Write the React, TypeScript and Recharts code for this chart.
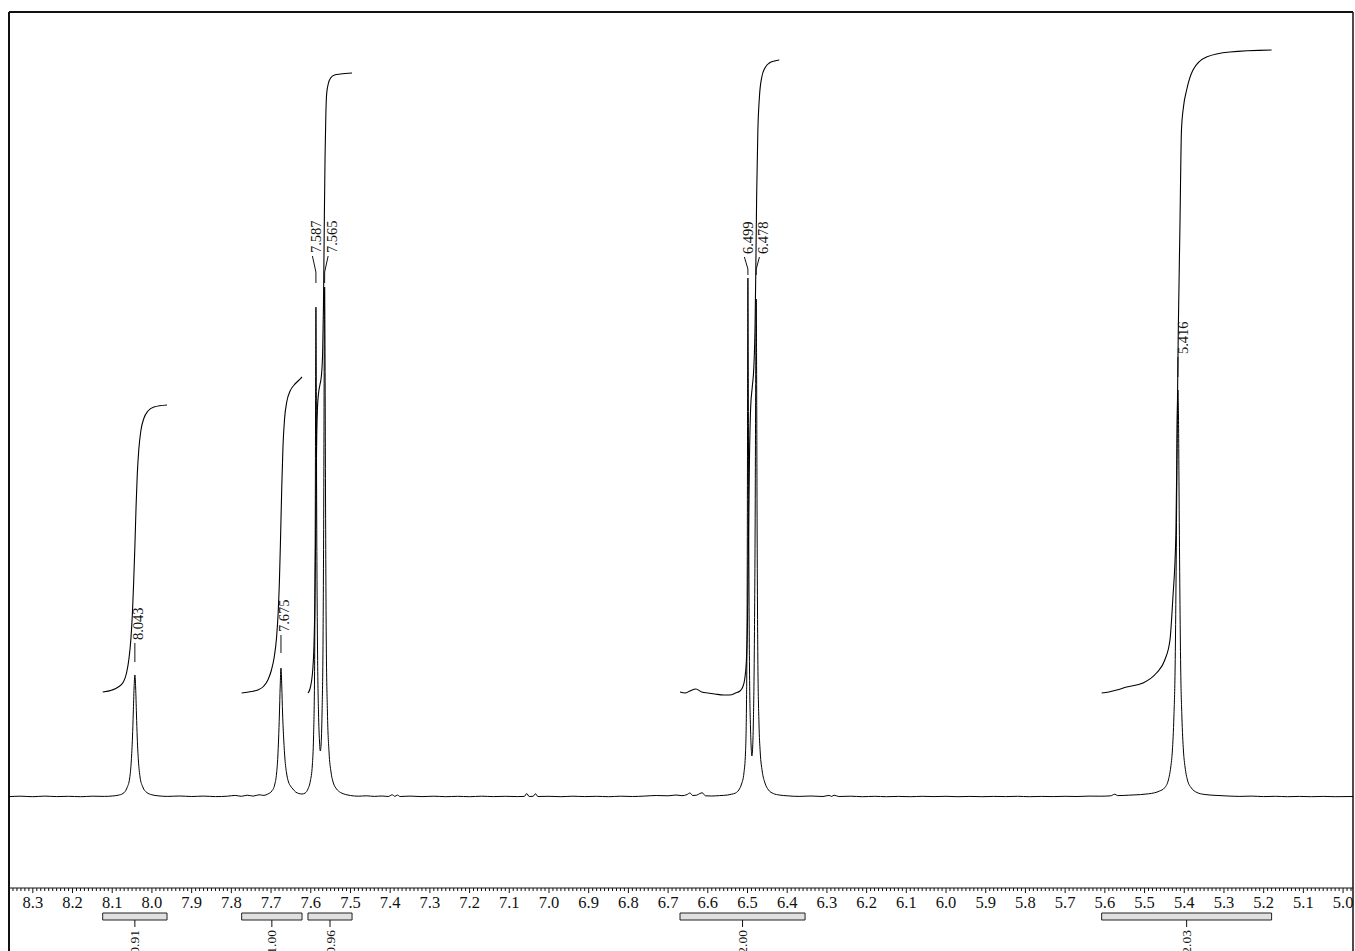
import React from 'react';
import { ComposedChart, Line, XAxis, YAxis, ReferenceLine, ReferenceArea } from 'recharts';

// 1H spectrum trace, [ppm, intensity]
const spectrum: [number, number][] = [
  [8.36, 0.4], [8.33, 0.8], [8.3, 0.3], [8.27, 0.9], [8.24, 0.4], [8.21, 0.7], [8.18, 0.3], [8.15, 0.8],
  [8.12, 0.6], [8.1, 1.0], [8.085, 1.8],
  [8.073, 3.5], [8.063, 9], [8.056, 19], [8.052, 36], [8.049, 60], [8.047, 84], [8.045, 109], [8.043, 122],
  [8.041, 109], [8.039, 83], [8.037, 59], [8.034, 36], [8.03, 20], [8.023, 10], [8.013, 4.5], [8.0, 2.2], [7.985, 1.2],
  [7.96, 0.6], [7.93, 1.0], [7.9, 0.5], [7.87, 0.9], [7.84, 0.4], [7.81, 0.8], [7.79, 1.6], [7.775, 0.7],
  [7.76, 1.8], [7.745, 0.9], [7.73, 2.2], [7.718, 1.6],
  [7.708, 3], [7.698, 6], [7.691, 12], [7.686, 24], [7.683, 40], [7.681, 58], [7.679, 82], [7.677, 110], [7.675, 129],
  [7.673, 111], [7.671, 84], [7.668, 57], [7.665, 38], [7.661, 24], [7.656, 15], [7.651, 11], [7.645, 8], [7.638, 5],
  [7.63, 3.5], [7.622, 3],
  [7.614, 4], [7.607, 8], [7.601, 16], [7.596, 32], [7.593, 60], [7.5905, 120], [7.5888, 260], [7.5875, 440], [7.587, 490],
  [7.5862, 430], [7.585, 280], [7.583, 150], [7.5805, 85], [7.578, 56], [7.576, 46], [7.574, 52], [7.5715, 85],
  [7.569, 160], [7.5672, 300], [7.5658, 470], [7.565, 510], [7.5642, 460], [7.5628, 300], [7.561, 160], [7.558, 85],
  [7.554, 45], [7.549, 25], [7.543, 14], [7.535, 8], [7.525, 4.5], [7.512, 2.5], [7.5, 1.5],
  [7.48, 0.8], [7.46, 1.2], [7.44, 0.6], [7.42, 1.0], [7.405, 0.5], [7.395, 2.2], [7.388, 0.6], [7.382, 2.0],
  [7.375, 0.5], [7.35, 0.9], [7.32, 0.4], [7.29, 0.8], [7.26, 0.3], [7.23, 0.7], [7.2, 0.3], [7.17, 0.8],
  [7.14, 0.4], [7.11, 0.7], [7.08, 0.4], [7.062, 0.6], [7.056, 3.5], [7.05, 0.5], [7.04, 0.7], [7.034, 3.2],
  [7.028, 0.5], [7.0, 0.7], [6.97, 0.3], [6.94, 0.8], [6.91, 0.4], [6.88, 0.7], [6.85, 0.3], [6.82, 0.8],
  [6.79, 0.5], [6.76, 0.9], [6.73, 1.5], [6.7, 1.2], [6.68, 2.0], [6.665, 1.3], [6.652, 2.5], [6.645, 4.0],
  [6.638, 1.5], [6.628, 1.8], [6.62, 3.5], [6.614, 4.2], [6.606, 1.2], [6.59, 1.0], [6.57, 1.4], [6.55, 2.0], [6.54, 2.8],
  [6.53, 4], [6.522, 7], [6.515, 13], [6.509, 24], [6.505, 45], [6.5025, 95], [6.5005, 250], [6.4995, 460], [6.499, 519],
  [6.4982, 440], [6.4968, 260], [6.495, 130], [6.4925, 70], [6.4905, 48], [6.489, 41], [6.4875, 46], [6.4855, 70],
  [6.483, 140], [6.4808, 270], [6.4792, 430], [6.478, 498], [6.4772, 440], [6.4758, 270], [6.474, 140], [6.4712, 75],
  [6.468, 45], [6.463, 26], [6.456, 14], [6.447, 7], [6.435, 3.5], [6.42, 2.0], [6.4, 1.2],
  [6.37, 0.6], [6.34, 1.0], [6.31, 0.5], [6.295, 1.6], [6.288, 0.6], [6.282, 1.8], [6.27, 0.5], [6.24, 0.8],
  [6.21, 0.3], [6.18, 0.7], [6.15, 0.3], [6.12, 0.6], [6.09, 0.3], [6.06, 0.7], [6.03, 0.4], [6.0, 0.7],
  [5.97, 0.3], [5.94, 0.6], [5.91, 0.3], [5.88, 0.6], [5.85, 0.4], [5.82, 0.7], [5.79, 0.3], [5.76, 0.6],
  [5.73, 0.4], [5.7, 0.7], [5.67, 0.5], [5.64, 0.9], [5.61, 0.8], [5.585, 1.2], [5.575, 2.8], [5.568, 1.4],
  [5.54, 1.8], [5.51, 2.4], [5.49, 3.2], [5.475, 4.2],
  [5.462, 6], [5.45, 9], [5.44, 17], [5.434, 30], [5.43, 46], [5.426, 81], [5.423, 130], [5.421, 203], [5.419, 300],
  [5.4175, 380], [5.416, 407], [5.4145, 380], [5.413, 300], [5.411, 203], [5.409, 130], [5.406, 81], [5.402, 46],
  [5.398, 30], [5.392, 17], [5.382, 9], [5.368, 4.5], [5.35, 2.6], [5.32, 1.6], [5.29, 1.0],
  [5.26, 0.6], [5.23, 0.9], [5.2, 0.4], [5.17, 0.7], [5.14, 0.3], [5.11, 0.6], [5.08, 0.3], [5.05, 0.6],
  [5.02, 0.3], [4.975, 0.5],
];

// integral curves, [ppm, height]
const integral1: [number, number][] = [
  [8.124, 105], [8.1, 107], [8.085, 110], [8.072, 115], [8.064, 124], [8.058, 138], [8.053, 158], [8.049, 185],
  [8.046, 215], [8.043, 250], [8.04, 290], [8.037, 322], [8.033, 348], [8.028, 366], [8.02, 379], [8.01, 386],
  [7.995, 390], [7.962, 392],
];
const integral2: [number, number][] = [
  [7.774, 104], [7.75, 105.5], [7.733, 107], [7.718, 111], [7.708, 117], [7.699, 127], [7.692, 140], [7.686, 160],
  [7.682, 185], [7.679, 215], [7.676, 260], [7.673, 310], [7.67, 350], [7.666, 378], [7.66, 396], [7.652, 406],
  [7.642, 412], [7.632, 416], [7.622, 420],
];
const integral3: [number, number][] = [
  [7.607, 104], [7.602, 108], [7.598, 116], [7.595, 127], [7.592, 150], [7.59, 185], [7.588, 250], [7.5865, 310],
  [7.585, 360], [7.583, 390], [7.58, 405], [7.577, 412], [7.573, 422], [7.57, 445], [7.568, 490], [7.566, 570],
  [7.564, 640], [7.562, 682], [7.56, 703], [7.556, 713], [7.55, 719], [7.54, 722], [7.525, 723], [7.496, 724],
];
const integral4: [number, number][] = [
  [6.67, 105], [6.657, 104], [6.645, 106], [6.63, 108], [6.615, 105], [6.6, 104], [6.582, 103], [6.56, 102],
  [6.545, 102], [6.53, 104], [6.519, 106], [6.512, 110], [6.507, 118], [6.503, 135], [6.5, 175], [6.4975, 260],
  [6.495, 340], [6.492, 390], [6.488, 410], [6.484, 430], [6.481, 470], [6.479, 530], [6.477, 600], [6.474, 665],
  [6.47, 700], [6.464, 720], [6.456, 729], [6.445, 734], [6.432, 736], [6.42, 737],
];
const integral5: [number, number][] = [
  [5.608, 104], [5.59, 105], [5.57, 107], [5.545, 110], [5.504, 114], [5.47, 124], [5.449, 137], [5.436, 157],
  [5.429, 197], [5.421, 264], [5.418, 364], [5.415, 467], [5.411, 567], [5.407, 667], [5.402, 690], [5.394, 707],
  [5.378, 727], [5.344, 740], [5.285, 745], [5.18, 747],
];

// integration ranges [from, to] and their values
const integralRanges: [number, number][] = [
  [8.124, 7.962], [7.774, 7.622], [7.607, 7.496], [6.67, 6.355], [5.608, 5.18],
];
const integralValues = ['0.91', '1.00', '0.96', '2.00', '2.03'];

// picked peaks
const peakShifts = [8.043, 7.675, 7.587, 7.565, 6.499, 6.478, 5.416];
const peakText = ['8.043', '7.675', '7.587', '7.565', '6.499', '6.478', '5.416'];

const majorTicks = [
  8.3, 8.2, 8.1, 8.0, 7.9, 7.8, 7.7, 7.6, 7.5, 7.4, 7.3, 7.2, 7.1, 7.0, 6.9, 6.8, 6.7, 6.6, 6.5, 6.4,
  6.3, 6.2, 6.1, 6.0, 5.9, 5.8, 5.7, 5.6, 5.5, 5.4, 5.3, 5.2, 5.1, 5.0,
];

const PPM_MIN = 4.975;
const PPM_MAX = 8.36;
const Y_MIN = -91;
const Y_MAX = 785;
const INK = '#111';
const SERIF = '"Liberation Serif", "Times New Roman", serif';

// minor ticks every 0.01 ppm
const axisTicks: number[] = [];
for (let k = Math.ceil(PPM_MIN * 100); k <= Math.floor(PPM_MAX * 100); k++) axisTicks.push(k / 100);

const toPoints = (arr: [number, number][]) => arr.map(([ppm, i]) => ({ ppm, i }));

const AxisTick = (props: any) => {
  const { x, y, payload } = props;
  const v = payload.value as number;
  const major = majorTicks.some((m) => Math.abs(m - v) < 1e-6);
  return (
    <g>
      <line x1={x} x2={x} y1={y} y2={y + (major ? 5 : 3)} stroke={INK} strokeWidth={1} />
      {major && (
        <text x={x} y={y + 20} textAnchor="middle" fontFamily={SERIF} fontSize={16.5} fill={INK}>
          {v.toFixed(1)}
        </text>
      )}
    </g>
  );
};

// shift label above a peak; rise > 0 adds a slanted leader to a shifted label
const PeakTag = (props: any) => {
  const { viewBox, text, dx = 0, rise = 0, gap = 3 } = props;
  if (!viewBox) return null;
  const x = viewBox.x;
  const top = viewBox.y;
  const lx = x + dx;
  const ly = top - rise;
  const tx = lx + 3.5;
  const ty = ly - gap;
  return (
    <g>
      {rise > 0 && <line x1={x} y1={top} x2={lx} y2={ly} stroke={INK} strokeWidth={1} />}
      <text
        x={tx}
        y={ty}
        transform={`rotate(-90 ${tx} ${ty})`}
        dominantBaseline="central"
        fontFamily={SERIF}
        fontSize={14.5}
        fill={INK}
      >
        {text}
      </text>
    </g>
  );
};

const IntegralTag = (props: any) => {
  const { viewBox, text } = props;
  if (!viewBox) return null;
  const x = viewBox.x;
  const ty = viewBox.y + viewBox.height + 3;
  return (
    <text
      x={x}
      y={ty}
      transform={`rotate(-90 ${x} ${ty})`}
      textAnchor="end"
      dominantBaseline="central"
      fontFamily={SERIF}
      fontSize={13.5}
      fill={INK}
    >
      {text}
    </text>
  );
};

// label placement per peak: [stroke bottom, stroke top, leader dx, leader rise]
const tagLayout: [number, number, number, number][] = [
  [135, 154, 0, 0],
  [144, 162, 0, 0],
  [514, 525, -3.5, 16],
  [514, 525, 3.5, 16],
  [522, 528, -3.5, 12],
  [522, 528, 3.2, 12],
  [420, 440, 1.5, 0],
];

const App: React.FC = () => {
  const integrals = [integral1, integral2, integral3, integral4, integral5];
  return (
    <div style={{ position: 'absolute', left: 0, top: 0, background: '#fff' }}>
      <ComposedChart width={1355} height={951} margin={{ top: 12, right: 2, bottom: 0, left: 9 }}>
        <XAxis
          type="number"
          dataKey="ppm"
          domain={[PPM_MIN, PPM_MAX]}
          reversed
          allowDataOverflow
          ticks={axisTicks}
          interval={0}
          tick={<AxisTick />}
          tickLine={false}
          tickSize={0}
          tickMargin={0}
          height={63}
          axisLine={{ stroke: INK, strokeWidth: 1 }}
        />
        <YAxis type="number" hide domain={[Y_MIN, Y_MAX]} allowDataOverflow />

        {/* frame */}
        <ReferenceLine y={Y_MAX} stroke={INK} strokeWidth={2} />
        <ReferenceLine
          segment={[{ x: PPM_MAX, y: Y_MAX }, { x: PPM_MAX, y: -160 }]}
          ifOverflow="visible"
          stroke={INK}
          strokeWidth={2}
        />
        <ReferenceLine
          segment={[{ x: PPM_MIN, y: Y_MAX }, { x: PPM_MIN, y: -160 }]}
          ifOverflow="visible"
          stroke={INK}
          strokeWidth={1.5}
        />

        <Line
          data={toPoints(spectrum)}
          dataKey="i"
          type="monotone"
          dot={false}
          stroke="#000"
          strokeWidth={1}
          isAnimationActive={false}
        />
        {integrals.map((arr, k) => (
          <Line
            key={`int-${k}`}
            data={toPoints(arr)}
            dataKey="i"
            type="monotone"
            dot={false}
            stroke="#000"
            strokeWidth={1.1}
            isAnimationActive={false}
          />
        ))}

        {peakShifts.map((ppm, k) => {
          const [lo, hi, dx, rise] = tagLayout[k];
          return (
            <ReferenceLine
              key={`pk-${k}`}
              segment={[{ x: ppm, y: lo }, { x: ppm, y: hi }]}
              ifOverflow="visible"
              stroke={INK}
              strokeWidth={1}
              label={<PeakTag text={peakText[k]} dx={dx} rise={rise} />}
            />
          );
        })}

        {integralRanges.map(([a, b], k) => (
          <ReferenceArea
            key={`box-${k}`}
            x1={a}
            x2={b}
            y1={-116}
            y2={-123}
            ifOverflow="visible"
            fill="#e0e0e0"
            fillOpacity={1}
            stroke="#222"
            strokeWidth={1}
          />
        ))}
        {integralRanges.map(([a, b], k) => (
          <ReferenceLine
            key={`val-${k}`}
            segment={[{ x: (a + b) / 2, y: -123 }, { x: (a + b) / 2, y: -130 }]}
            ifOverflow="visible"
            stroke={INK}
            strokeWidth={1}
            label={<IntegralTag text={integralValues[k]} />}
          />
        ))}
      </ComposedChart>
    </div>
  );
};

export default App;
